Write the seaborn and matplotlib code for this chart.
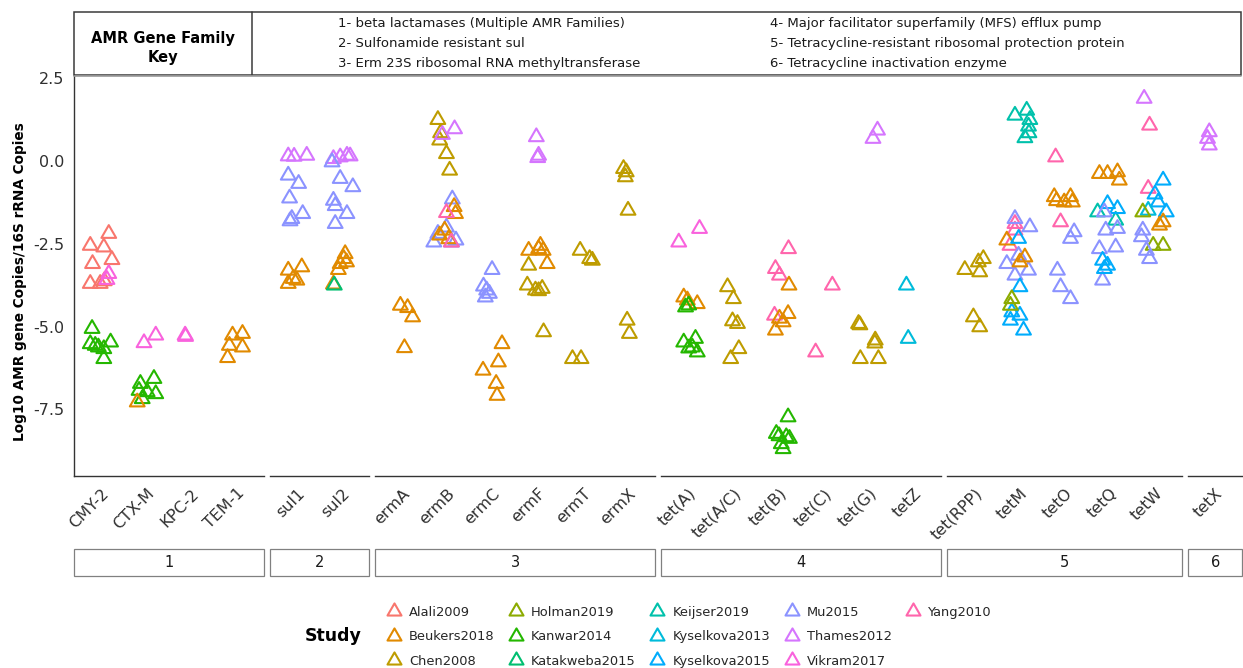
import matplotlib
matplotlib.use("Agg")
import numpy as np
import pandas as pd
import matplotlib.pyplot as plt
from matplotlib.path import Path
from matplotlib.lines import Line2D
from matplotlib.patches import Rectangle
import seaborn as sns

# ---------------------------------------------------------------- data
studies = ["Alali2009", "Beukers2018", "Chen2008", "Holman2019", "Kanwar2014",
           "Katakweba2015", "Keijser2019", "Kyselkova2013", "Kyselkova2015",
           "Mu2015", "Thames2012", "Vikram2017", "Yang2010"]
study_colors = ["#F8766D", "#E18A00", "#BE9C00", "#8CAB00", "#24B700", "#00BE70",
                "#00C1AB", "#00BBDA", "#00ACFC", "#8B93FF", "#D575FE", "#F962DD",
                "#FF65AC"]

families = ["1", "2", "3", "4", "5", "6"]
genes_1 = ["CMY-2", "CTX-M", "KPC-2", "TEM-1"]
genes_2 = ["sul1", "sul2"]
genes_3 = ["ermA", "ermB", "ermC", "ermF", "ermT", "ermX"]
genes_4 = ["tet(A)", "tet(A/C)", "tet(B)", "tet(C)", "tet(G)", "tetZ"]
genes_5 = ["tet(RPP)", "tetM", "tetO", "tetQ", "tetW"]
genes_6 = ["tetX"]

key_left = ["1- beta lactamases (Multiple AMR Families)",
            "2- Sulfonamide resistant sul",
            "3- Erm 23S ribosomal RNA methyltransferase"]
key_right = ["4- Major facilitator superfamily (MFS) efflux pump",
             "5- Tetracycline-resistant ribosomal protection protein",
             "6- Tetracycline inactivation enzyme"]

y_ticks = [2.5, 0.0, -2.5, -5.0, -7.5]
y_tick_labels = ["2.5", "0.0", "-2.5", "-5.0", "-7.5"]

# (gene, study, log10 AMR copies / 16S copies)
values_1 = [
    ("CMY-2", "Alali2009", -2.19), ("CMY-2", "Alali2009", -2.55), ("CMY-2", "Alali2009", -2.60),
    ("CMY-2", "Alali2009", -2.98), ("CMY-2", "Alali2009", -3.10), ("CMY-2", "Alali2009", -3.70),
    ("CMY-2", "Alali2009", -3.70), ("CMY-2", "Alali2009", -3.62),
    ("CMY-2", "Vikram2017", -3.40), ("CMY-2", "Vikram2017", -3.58),
    ("CMY-2", "Kanwar2014", -5.06), ("CMY-2", "Kanwar2014", -5.52), ("CMY-2", "Kanwar2014", -5.57),
    ("CMY-2", "Kanwar2014", -5.47), ("CMY-2", "Kanwar2014", -5.67), ("CMY-2", "Kanwar2014", -5.97),
    ("CMY-2", "Kanwar2014", -5.62),
    ("CTX-M", "Vikram2017", -5.49), ("CTX-M", "Vikram2017", -5.26),
    ("CTX-M", "Kanwar2014", -6.72), ("CTX-M", "Kanwar2014", -6.57), ("CTX-M", "Kanwar2014", -6.93),
    ("CTX-M", "Kanwar2014", -7.03), ("CTX-M", "Kanwar2014", -6.97), ("CTX-M", "Kanwar2014", -7.18),
    ("CTX-M", "Beukers2018", -7.28),
    ("KPC-2", "Vikram2017", -5.26), ("KPC-2", "Vikram2017", -5.30),
    ("TEM-1", "Beukers2018", -5.26), ("TEM-1", "Beukers2018", -5.21), ("TEM-1", "Beukers2018", -5.57),
    ("TEM-1", "Beukers2018", -5.62), ("TEM-1", "Beukers2018", -5.94),
]
values_2 = [
    ("sul1", "Thames2012", 0.15), ("sul1", "Thames2012", 0.14), ("sul1", "Thames2012", 0.17),
    ("sul1", "Mu2015", -0.43), ("sul1", "Mu2015", -0.68), ("sul1", "Mu2015", -1.12),
    ("sul1", "Mu2015", -1.74), ("sul1", "Mu2015", -1.59), ("sul1", "Mu2015", -1.81),
    ("sul1", "Beukers2018", -3.30), ("sul1", "Beukers2018", -3.20), ("sul1", "Beukers2018", -3.55),
    ("sul1", "Beukers2018", -3.70), ("sul1", "Beukers2018", -3.60),
    ("sul2", "Thames2012", 0.07), ("sul2", "Thames2012", 0.12), ("sul2", "Thames2012", 0.17),
    ("sul2", "Thames2012", 0.15),
    ("sul2", "Mu2015", -0.03), ("sul2", "Mu2015", -0.53), ("sul2", "Mu2015", -0.78),
    ("sul2", "Mu2015", -1.19), ("sul2", "Mu2015", -1.35), ("sul2", "Mu2015", -1.59),
    ("sul2", "Mu2015", -1.89),
    ("sul2", "Beukers2018", -2.80), ("sul2", "Beukers2018", -2.95), ("sul2", "Beukers2018", -3.10),
    ("sul2", "Beukers2018", -3.05), ("sul2", "Beukers2018", -3.28), ("sul2", "Beukers2018", -3.72),
    ("sul2", "Katakweba2015", -3.75),
]
values_3 = [
    ("ermA", "Beukers2018", -4.36), ("ermA", "Beukers2018", -4.43), ("ermA", "Beukers2018", -4.71),
    ("ermA", "Beukers2018", -5.64),
    ("ermB", "Chen2008", 1.25), ("ermB", "Chen2008", 0.85), ("ermB", "Chen2008", 0.63),
    ("ermB", "Chen2008", 0.22), ("ermB", "Chen2008", -0.28),
    ("ermB", "Thames2012", 0.80), ("ermB", "Thames2012", 0.97),
    ("ermB", "Mu2015", -1.15), ("ermB", "Mu2015", -2.00), ("ermB", "Mu2015", -2.19),
    ("ermB", "Mu2015", -2.45), ("ermB", "Mu2015", -2.45), ("ermB", "Mu2015", -2.39),
    ("ermB", "Beukers2018", -1.38), ("ermB", "Beukers2018", -1.59), ("ermB", "Beukers2018", -2.09),
    ("ermB", "Beukers2018", -2.24), ("ermB", "Beukers2018", -2.35),
    ("ermB", "Yang2010", -1.56), ("ermB", "Yang2010", -2.45),
    ("ermC", "Mu2015", -3.28), ("ermC", "Mu2015", -3.78), ("ermC", "Mu2015", -3.90),
    ("ermC", "Mu2015", -4.00), ("ermC", "Mu2015", -4.11),
    ("ermC", "Beukers2018", -5.52), ("ermC", "Beukers2018", -6.07), ("ermC", "Beukers2018", -6.32),
    ("ermC", "Beukers2018", -6.72), ("ermC", "Beukers2018", -7.08),
    ("ermF", "Thames2012", 0.73), ("ermF", "Thames2012", 0.17), ("ermF", "Thames2012", 0.10),
    ("ermF", "Beukers2018", -2.70), ("ermF", "Beukers2018", -2.55), ("ermF", "Beukers2018", -2.70),
    ("ermF", "Beukers2018", -3.10), ("ermF", "Beukers2018", -2.65),
    ("ermF", "Chen2008", -3.15), ("ermF", "Chen2008", -3.75), ("ermF", "Chen2008", -3.90),
    ("ermF", "Chen2008", -3.85), ("ermF", "Chen2008", -3.92), ("ermF", "Chen2008", -5.16),
    ("ermT", "Chen2008", -2.70), ("ermT", "Chen2008", -3.00), ("ermT", "Chen2008", -2.95),
    ("ermT", "Chen2008", -5.97), ("ermT", "Chen2008", -5.97),
    ("ermX", "Chen2008", -0.23), ("ermX", "Chen2008", -0.33), ("ermX", "Chen2008", -0.48),
    ("ermX", "Chen2008", -1.49), ("ermX", "Chen2008", -4.81), ("ermX", "Chen2008", -5.21),
]
values_4 = [
    ("tet(A)", "Vikram2017", -2.45), ("tet(A)", "Vikram2017", -2.04),
    ("tet(A)", "Beukers2018", -4.11), ("tet(A)", "Beukers2018", -4.20), ("tet(A)", "Beukers2018", -4.31),
    ("tet(A)", "Kanwar2014", -4.41), ("tet(A)", "Kanwar2014", -4.35), ("tet(A)", "Kanwar2014", -5.47),
    ("tet(A)", "Kanwar2014", -5.36), ("tet(A)", "Kanwar2014", -5.62), ("tet(A)", "Kanwar2014", -5.77),
    ("tet(A)", "Kanwar2014", -5.65),
    ("tet(A/C)", "Chen2008", -3.80), ("tet(A/C)", "Chen2008", -4.16), ("tet(A/C)", "Chen2008", -4.83),
    ("tet(A/C)", "Chen2008", -4.91), ("tet(A/C)", "Chen2008", -5.67), ("tet(A/C)", "Chen2008", -5.97),
    ("tet(B)", "Yang2010", -3.25), ("tet(B)", "Yang2010", -3.45), ("tet(B)", "Yang2010", -2.65),
    ("tet(B)", "Yang2010", -4.66),
    ("tet(B)", "Beukers2018", -3.75), ("tet(B)", "Beukers2018", -4.61), ("tet(B)", "Beukers2018", -4.86),
    ("tet(B)", "Beukers2018", -5.11), ("tet(B)", "Beukers2018", -4.75),
    ("tet(B)", "Kanwar2014", -7.73), ("tet(B)", "Kanwar2014", -8.23), ("tet(B)", "Kanwar2014", -8.33),
    ("tet(B)", "Kanwar2014", -8.38), ("tet(B)", "Kanwar2014", -8.54), ("tet(B)", "Kanwar2014", -8.69),
    ("tet(B)", "Kanwar2014", -8.30),
    ("tet(C)", "Yang2010", -3.75), ("tet(C)", "Yang2010", -5.77),
    ("tet(G)", "Thames2012", 0.93), ("tet(G)", "Thames2012", 0.68),
    ("tet(G)", "Chen2008", -4.91), ("tet(G)", "Chen2008", -4.95), ("tet(G)", "Chen2008", -5.41),
    ("tet(G)", "Chen2008", -5.50), ("tet(G)", "Chen2008", -5.97), ("tet(G)", "Chen2008", -5.97),
    ("tetZ", "Kyselkova2013", -3.75), ("tetZ", "Kyselkova2013", -5.36),
]
values_5 = [
    ("tet(RPP)", "Chen2008", -3.28), ("tet(RPP)", "Chen2008", -3.05), ("tet(RPP)", "Chen2008", -2.95),
    ("tet(RPP)", "Chen2008", -3.35), ("tet(RPP)", "Chen2008", -4.71), ("tet(RPP)", "Chen2008", -5.01),
    ("tetM", "Keijser2019", 1.38), ("tetM", "Keijser2019", 1.53), ("tetM", "Keijser2019", 1.25),
    ("tetM", "Keijser2019", 1.05), ("tetM", "Keijser2019", 0.85), ("tetM", "Keijser2019", 0.70),
    ("tetM", "Yang2010", -1.89), ("tetM", "Yang2010", -2.09), ("tetM", "Yang2010", -2.55),
    ("tetM", "Mu2015", -1.74), ("tetM", "Mu2015", -1.99), ("tetM", "Mu2015", -2.85),
    ("tetM", "Mu2015", -3.10), ("tetM", "Mu2015", -3.30), ("tetM", "Mu2015", -3.45),
    ("tetM", "Beukers2018", -2.39), ("tetM", "Beukers2018", -2.90), ("tetM", "Beukers2018", -3.05),
    ("tetM", "Kyselkova2015", -2.34), ("tetM", "Kyselkova2015", -3.80), ("tetM", "Kyselkova2015", -4.56),
    ("tetM", "Kyselkova2015", -4.66), ("tetM", "Kyselkova2015", -4.81), ("tetM", "Kyselkova2015", -5.11),
    ("tetM", "Holman2019", -4.16), ("tetM", "Holman2019", -4.36),
    ("tetO", "Beukers2018", -1.08), ("tetO", "Beukers2018", -1.08), ("tetO", "Beukers2018", -1.24),
    ("tetO", "Beukers2018", -1.24), ("tetO", "Beukers2018", -1.20),
    ("tetO", "Mu2015", -2.14), ("tetO", "Mu2015", -2.34), ("tetO", "Mu2015", -3.30),
    ("tetO", "Mu2015", -3.80), ("tetO", "Mu2015", -4.16),
    ("tetO", "Yang2010", 0.12), ("tetO", "Yang2010", -1.84),
    ("tetQ", "Beukers2018", -0.38), ("tetQ", "Beukers2018", -0.38), ("tetQ", "Beukers2018", -0.33),
    ("tetQ", "Beukers2018", -0.58),
    ("tetQ", "Keijser2019", -1.54), ("tetQ", "Keijser2019", -1.79),
    ("tetQ", "Kyselkova2015", -1.29), ("tetQ", "Kyselkova2015", -1.44),
    ("tetQ", "Mu2015", -1.54), ("tetQ", "Mu2015", -2.09), ("tetQ", "Mu2015", -2.04),
    ("tetQ", "Mu2015", -2.65), ("tetQ", "Mu2015", -2.60), ("tetQ", "Mu2015", -3.60),
    ("tetQ", "Kyselkova2015", -3.00), ("tetQ", "Kyselkova2015", -3.15), ("tetQ", "Kyselkova2015", -3.25),
    ("tetW", "Thames2012", 1.89),
    ("tetW", "Yang2010", 1.08), ("tetW", "Yang2010", -0.83),
    ("tetW", "Kyselkova2015", -0.58), ("tetW", "Kyselkova2015", -1.00), ("tetW", "Kyselkova2015", -1.24),
    ("tetW", "Kyselkova2015", -1.54),
    ("tetW", "Kyselkova2013", -1.49),
    ("tetW", "Holman2019", -1.54), ("tetW", "Holman2019", -2.55), ("tetW", "Holman2019", -2.55),
    ("tetW", "Beukers2018", -1.84), ("tetW", "Beukers2018", -1.94),
    ("tetW", "Mu2015", -2.09), ("tetW", "Mu2015", -2.29), ("tetW", "Mu2015", -2.70),
    ("tetW", "Mu2015", -2.95),
]
values_6 = [
    ("tetX", "Thames2012", 0.88), ("tetX", "Thames2012", 0.68), ("tetX", "Thames2012", 0.48),
]

# horizontal jitter of each point (category units), same order as above
jitter_1 = [0.17, -0.24, 0.06, 0.24, -0.19, -0.24, -0.02, 0.07,
            0.17, 0.13,
            -0.20, -0.24, -0.13, 0.21, 0.06, 0.06, -0.06,
            -0.05, 0.21,
            -0.13, 0.17, -0.16, 0.21, 0.02, -0.09,
            -0.20,
            -0.14, -0.13,
            -0.09, 0.13, -0.16, 0.13, -0.20]
jitter_2 = [-0.19, -0.06, 0.22,
            -0.19, 0.04, -0.16, -0.11, 0.13, -0.15,
            -0.19, 0.11, -0.08, -0.19, 0.00,
            -0.19, -0.04, 0.11, 0.18,
            -0.22, -0.04, 0.24, -0.19, -0.15, 0.11, -0.15,
            0.07, 0.04, -0.04, 0.10, -0.08, -0.19,
            -0.17]
jitter_3 = [-0.04, 0.12, 0.23, 0.05,
            -0.21, -0.15, -0.17, -0.02, 0.05,
            -0.11, 0.16,
            0.11, -0.02, -0.21, -0.30, 0.09, 0.19,
            0.15, 0.18, -0.06, -0.17, 0.03,
            -0.02, 0.09,
            -0.01, -0.20, -0.13, -0.07, -0.16,
            0.21, 0.13, -0.21, 0.08, 0.10,
            -0.03, 0.02, 0.00,
            -0.20, 0.06, 0.12, 0.21, 0.02,
            -0.20, -0.23, -0.05, 0.10, 0.02, 0.13,
            -0.06, 0.21, 0.15, -0.23, -0.04,
            -0.10, -0.04, -0.06, 0.00, -0.02, 0.03]
jitter_4 = [-0.21, 0.25,
            -0.10, -0.02, 0.20,
            -0.06, 0.01, -0.10, 0.16, 0.09, 0.20, 0.01,
            -0.13, 0.00, -0.02, 0.09, 0.12, -0.06,
            -0.07, 0.02, 0.22, -0.09,
            0.23, 0.21, 0.10, -0.07, 0.02,
            0.21, -0.05, 0.17, 0.24, 0.06, 0.10, 0.01,
            0.19, -0.18,
            0.19, 0.09,
            -0.23, -0.20, 0.14, 0.13, -0.19, 0.21,
            -0.17, -0.13]
jitter_5 = [-0.21, 0.09, 0.20, 0.12, -0.02, 0.12,
            -0.10, 0.16, 0.23, 0.20, 0.21, 0.12,
            -0.10, -0.10, -0.21,
            -0.10, 0.23, -0.02, -0.28, 0.20, -0.10,
            -0.28, 0.12, 0.01,
            -0.02, 0.01, -0.17, 0.01, -0.20, 0.09,
            -0.17, -0.20,
            -0.23, 0.13, 0.17, -0.01, -0.18,
            0.21, 0.13, -0.16, -0.09, 0.13,
            -0.20, -0.09,
            -0.23, -0.05, 0.17, 0.21,
            -0.27, 0.13,
            -0.05, 0.17,
            -0.12, -0.09, 0.17, -0.23, 0.13, -0.16,
            -0.16, -0.05, -0.12,
            -0.24,
            -0.12, -0.15,
            0.18, 0.00, 0.07, 0.25,
            -0.15,
            -0.27, -0.04, 0.18,
            0.18, 0.10,
            -0.27, -0.30, -0.19, -0.12]
jitter_6 = [-0.13, -0.17, -0.13]

family_genes = [genes_1, genes_2, genes_3, genes_4, genes_5, genes_6]
family_values = [values_1, values_2, values_3, values_4, values_5, values_6]
family_jitter = [jitter_1, jitter_2, jitter_3, jitter_4, jitter_5, jitter_6]

frames = []
for fam, genes, vals, jit in zip(families, family_genes, family_values, family_jitter):
    d = pd.DataFrame(vals, columns=["Gene", "Study", "Value"])
    d["Family"] = fam
    d["xpos"] = d["Gene"].map({g: i for i, g in enumerate(genes)}) + np.asarray(jit)
    frames.append(d)
df = pd.concat(frames, ignore_index=True)

# ---------------------------------------------------------------- style
sns.set_style("white")
plt.rcParams["font.family"] = ["DejaVu Sans"]
palette = dict(zip(studies, study_colors))

# equilateral open triangle centred on its centroid
TRI = Path([(0, 1), (-0.866, -0.5), (0.866, -0.5), (0, 1)],
           [Path.MOVETO, Path.LINETO, Path.LINETO, Path.CLOSEPOLY])
MSIZE = 150
MLW = 1.5

W, H = 1243, 668
fig = plt.figure(figsize=(W / 100, H / 100), dpi=100)


def fx(px):
    return px / W


def fy(py):
    return 1 - py / H


UNIT = 45.17
GAP = 6
LEFT, TOP, BOTTOM = 74, 75, 476
AXIS_COL = "#333333"
TEXT_COL = "#303030"

x0 = LEFT
for i, (fam, genes) in enumerate(zip(families, family_genes)):
    n = len(genes)
    width = (n - 1 + 1.2) * UNIT
    ax = fig.add_axes([fx(x0), fy(BOTTOM), width / W, (BOTTOM - TOP) / H])
    sub = df[df["Family"] == fam]
    sns.scatterplot(data=sub, x="xpos", y="Value", hue="Study", hue_order=studies,
                    palette=palette, marker=TRI, s=MSIZE, linewidth=MLW,
                    legend=False, ax=ax, clip_on=False)
    pts = ax.collections[-1]
    cols = pts.get_facecolors()
    pts.set_edgecolors(cols)
    pts.set_facecolors("none")

    ax.set_xlim(-0.6, n - 1 + 0.6)
    ax.set_ylim(-9.51, 2.6)
    ax.set_xlabel("")
    ax.set_ylabel("")
    ax.set_xticks(range(n))
    ax.set_xticklabels(genes, rotation=45, ha="right", va="top",
                       rotation_mode="anchor", fontsize=11.5, color=TEXT_COL)
    ax.tick_params(axis="x", length=4, width=0.8, color=AXIS_COL, pad=3)
    for s in ["top", "right"]:
        ax.spines[s].set_visible(False)
    ax.spines["bottom"].set_color(AXIS_COL)
    ax.spines["bottom"].set_linewidth(1.0)
    if i == 0:
        ax.spines["left"].set_color(AXIS_COL)
        ax.spines["left"].set_linewidth(1.0)
        ax.set_yticks(y_ticks)
        ax.set_yticklabels(y_tick_labels, fontsize=11.5, color=TEXT_COL)
        ax.tick_params(axis="y", length=4, width=0.8, color=AXIS_COL, pad=3)
    else:
        ax.spines["left"].set_visible(False)
        ax.set_yticks([])
    ax.grid(False)
    ax.patch.set_alpha(0)

    # family strip below the gene labels
    fig.add_artist(Rectangle((fx(x0), fy(576)), width / W, 27 / H,
                             transform=fig.transFigure, facecolor="white",
                             edgecolor="#808080", linewidth=0.9))
    fig.text(fx(x0 + width / 2), fy(562.5), fam, ha="center", va="center",
             fontsize=10.5, color="#1a1a1a")
    x0 += width + GAP

# y axis title
fig.text(fx(20), fy(282), "Log10 AMR gene Copies/16S rRNA Copies", rotation=90,
         ha="center", va="center", fontsize=9.8, fontweight="bold", color="black")

# gene family key table
KEY_L, KEY_R, KEY_T, KEY_B, KEY_DIV = 74, 1241, 12, 75, 252
fig.add_artist(Rectangle((fx(KEY_L), fy(KEY_B)), (KEY_R - KEY_L) / W, (KEY_B - KEY_T) / H,
                         transform=fig.transFigure, facecolor="white",
                         edgecolor="#3a3a3a", linewidth=1.1, zorder=-1))
fig.add_artist(Line2D([fx(KEY_DIV), fx(KEY_DIV)], [fy(KEY_T), fy(KEY_B)],
                      transform=fig.transFigure, color="#3a3a3a", linewidth=1.1))
fig.add_artist(Line2D([fx(KEY_L), fx(KEY_R)], [fy(KEY_B + 1), fy(KEY_B + 1)],
                      transform=fig.transFigure, color="#9a9a9a", linewidth=1.2))
fig.text(fx((KEY_L + KEY_DIV) / 2), fy(48), "AMR Gene Family\nKey", ha="center",
         va="center", fontsize=10.5, fontweight="bold", linespacing=1.4, color="black")
for j, (ltxt, rtxt) in enumerate(zip(key_left, key_right)):
    yy = fy(23 + j * 20.5)
    fig.text(fx(338), yy, ltxt, ha="left", va="center", fontsize=9.5, color="#1a1a1a")
    fig.text(fx(770), yy, rtxt, ha="left", va="center", fontsize=9.5, color="#1a1a1a")

# legend
handles = [Line2D([], [], marker=TRI, linestyle="none", markerfacecolor="none",
                  markeredgecolor=palette[s], markersize=np.sqrt(MSIZE) * 0.95,
                  markeredgewidth=MLW) for s in studies]
labels = list(studies)
for _ in range(2):
    handles.append(Line2D([], [], linestyle="none"))
    labels.append("")
fig.legend(handles, labels, ncol=5, loc="upper left",
           bbox_to_anchor=(fx(386), fy(606)), frameon=False, fontsize=9.4,
           handlelength=1.2, handletextpad=0.55, columnspacing=1.05,
           labelspacing=0.88, borderpad=0, borderaxespad=0)
fig.text(fx(305), fy(636), "Study", ha="left", va="center", fontsize=12.5,
         fontweight="bold", color="black")

fig.savefig("out.png", dpi=100, facecolor="white")
